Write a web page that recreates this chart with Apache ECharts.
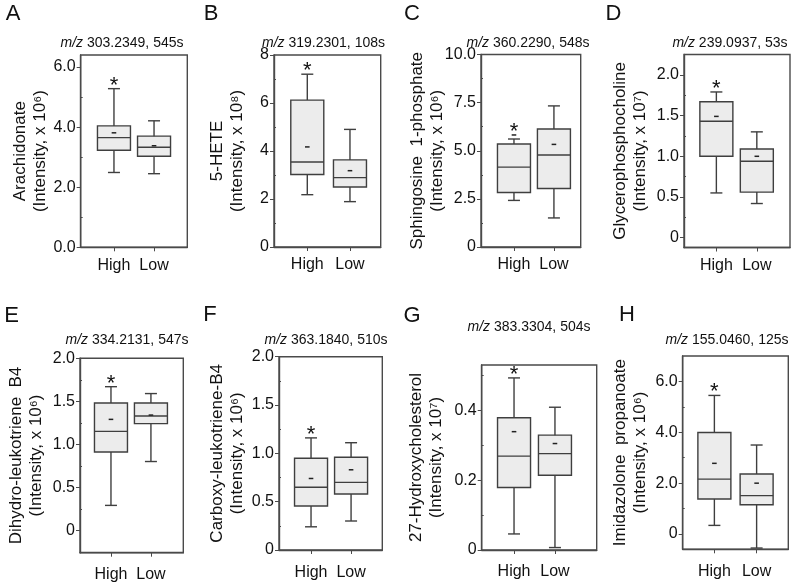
<!DOCTYPE html>
<html>
<head>
<meta charset="utf-8">
<script src="https://cdn.jsdelivr.net/npm/echarts@6/dist/echarts.min.js"></script>
<style>
  html, body { margin: 0; padding: 0; background: #fff; }
  #chart { width: 800px; height: 582px; }
</style>
</head>
<body>
<div id="chart"></div>
<script>
// groups on the x axis
const groups = ['High', 'Low']
const panelLetters = ['A', 'B', 'C', 'D', 'E', 'F', 'G', 'H']
const metabolites = ['Arachidonate', '5-HETE', 'Sphingosine  1-phosphate', 'Glycerophosphocholine',
  'Dihydro-leukotriene  B4', 'Carboxy-leukotriene-B4', '27-Hydroxycholesterol', 'Imidazolone  propanoate']
const mzValues = ['303.2349', '319.2301', '360.2290', '239.0937', '334.2131', '363.1840', '383.3304', '155.0460']
const retentionTimes = ['545s', '108s', '548s', '53s', '547s', '510s', '504s', '125s']
const units = ['10⁶', '10⁸', '10⁶', '10⁷', '10⁶', '10⁶', '10⁷', '10⁶']

// box stats per group: [lower whisker, Q1, median, Q3, upper whisker]
const statsA = [[2.49, 3.23, 3.65, 4.04, 5.28], [2.45, 3.03, 3.33, 3.70, 4.21]]
const statsB = [[2.18, 3.02, 3.54, 6.12, 7.20], [1.89, 2.50, 2.89, 3.63, 4.90]]
const statsC = [[2.42, 2.83, 4.15, 5.35, 5.61], [1.51, 3.04, 4.78, 6.13, 7.33]]
const statsD = [[0.55, 1.00, 1.43, 1.67, 1.79], [0.42, 0.56, 0.94, 1.09, 1.30]]
const statsE = [[0.29, 0.91, 1.15, 1.48, 1.67], [0.80, 1.24, 1.33, 1.48, 1.59]]
const statsF = [[0.24, 0.455, 0.65, 0.95, 1.16], [0.30, 0.58, 0.70, 0.96, 1.11]]
const statsG = [[0.046, 0.179, 0.269, 0.379, 0.493], [0.007, 0.214, 0.276, 0.329, 0.409]]
const statsH = [[0.34, 1.38, 2.16, 3.99, 5.45], [-0.55, 1.15, 1.51, 2.36, 3.50]]

// mean of each group (the small dash)
const meansA = [3.81, 3.38]
const meansB = [4.17, 3.18]
const meansC = [5.82, 5.33]
const meansD = [1.49, 1.00]
const meansE = [1.29, 1.34]
const meansF = [0.74, 0.83]
const meansG = [0.339, 0.305]
const meansH = [2.78, 2.00]

// significance flag (asterisk) per group
const starred = [true, false]

// y tick values and labels
const yTicksA = [0, 2, 4, 6]
const yLabelsA = ['0.0', '2.0', '4.0', '6.0']
const yTicksB = [0, 2, 4, 6, 8]
const yLabelsB = ['0', '2', '4', '6', '8']
const yTicksC = [0, 2.5, 5, 7.5, 10]
const yLabelsC = ['0', '2.5', '5.0', '7.5', '10.0']
const yTicksD = [0, 0.5, 1, 1.5, 2]
const yLabelsD = ['0', '0.5', '1.0', '1.5', '2.0']
const yTicksE = [0, 0.5, 1, 1.5, 2]
const yLabelsE = ['0', '0.5', '1.0', '1.5', '2.0']
const yTicksF = [0, 0.5, 1, 1.5, 2]
const yLabelsF = ['0', '0.5', '1.0', '1.5', '2.0']
const yTicksG = [0, 0.2, 0.4]
const yLabelsG = ['0', '0.2', '0.4']
const yTicksH = [0, 2, 4, 6]
const yLabelsH = ['0', '2.0', '4.0', '6.0']

const allStats = [statsA, statsB, statsC, statsD, statsE, statsF, statsG, statsH]
const allMeans = [meansA, meansB, meansC, meansD, meansE, meansF, meansG, meansH]
const allTicks = [yTicksA, yTicksB, yTicksC, yTicksD, yTicksE, yTicksF, yTicksG, yTicksH]
const allLabels = [yLabelsA, yLabelsB, yLabelsC, yLabelsD, yLabelsE, yLabelsF, yLabelsG, yLabelsH]

// layout of each panel: grid box (px), axis ranges, name gap, letter / title positions
const layout = [
  { left: 80.7, top: 55, width: 106.6, height: 192.3, xMin: 0.17, xMax: 2.83, yMin: 0, yMax: 6.4, gap: 30.5, xMargin: 10, letter: [13, 14], title: [122, 43] },
  { left: 274, top: 55, width: 106.7, height: 192, xMin: 0.22, xMax: 2.72, yMin: 0, yMax: 8, gap: 26.5, xMargin: 10, letter: [211, 14], title: [323.5, 43] },
  { left: 481, top: 54.5, width: 99.7, height: 192.5, xMin: 0.175, xMax: 2.67, yMin: 0, yMax: 10, gap: 33.5, xMargin: 10, letter: [412, 14], title: [528, 43] },
  { left: 684, top: 54.5, width: 106, height: 193, xMin: 0.2, xMax: 2.82, yMin: -0.12, yMax: 2.25, gap: 33.5, xMargin: 10, letter: [613.5, 14], title: [730, 43] },
  { left: 80, top: 358.3, width: 103.3, height: 194.4, xMin: 0.225, xMax: 2.81, yMin: -0.26, yMax: 2.0, gap: 33.5, xMargin: 14, letter: [11.5, 315.5], title: [127, 340] },
  { left: 279, top: 356.7, width: 103.3, height: 193.3, xMin: 0.2, xMax: 2.78, yMin: 0, yMax: 2.0, gap: 31.5, xMargin: 15, letter: [210, 315], title: [326, 340] },
  { left: 481.7, top: 365, width: 115, height: 185, xMin: 0.21, xMax: 3.02, yMin: 0, yMax: 0.53, gap: 35.5, xMargin: 14, letter: [412, 316], title: [529, 327.3] },
  { left: 682.7, top: 356, width: 105.6, height: 193.3, xMin: 0.25, xMax: 2.75, yMin: -0.6, yMax: 7.0, gap: 32.5, xMargin: 14, letter: [627, 315], title: [727, 340] }
]

const lineColor = '#3f3f3f'
const frameColor = '#4a4a4a'
const textColor = '#111'
const fontFamily = 'Liberation Sans, Arial, sans-serif'

// minor ticks sit halfway between major ticks
const minorOf = (ticks, max) => {
  const step = ticks[1] - ticks[0]
  const out = []
  for (let i = 0; i < ticks.length; i++) {
    const v = ticks[i] + step / 2
    if (v < max) out.push(+v.toFixed(6))
  }
  return out
}

const renderBox = (params, api) => {
  const x = api.value(0)
  const pt = (v) => api.coord([x, v])
  const cx = pt(api.value(3))[0]
  const yLow = pt(api.value(1))[1]
  const yQ1 = pt(api.value(2))[1]
  const yMed = pt(api.value(3))[1]
  const yQ3 = pt(api.value(4))[1]
  const yHigh = pt(api.value(5))[1]
  const mean = api.value(6)
  const star = api.value(7)
  const half = 16.5
  const cap = 6
  const st = { stroke: lineColor, lineWidth: 1.4, fill: null }
  const children = [
    { type: 'line', shape: { x1: cx, y1: yLow, x2: cx, y2: yHigh }, style: st },
    { type: 'line', shape: { x1: cx - cap, y1: yLow, x2: cx + cap, y2: yLow }, style: st },
    { type: 'line', shape: { x1: cx - cap, y1: yHigh, x2: cx + cap, y2: yHigh }, style: st },
    { type: 'rect', shape: { x: cx - half, y: yQ3, width: half * 2, height: yQ1 - yQ3 }, style: { stroke: lineColor, lineWidth: 1.4, fill: '#ececec' } },
    { type: 'line', shape: { x1: cx - half, y1: yMed, x2: cx + half, y2: yMed }, style: st }
  ]
  let topY = yHigh
  if (!isNaN(mean)) {
    const yMean = pt(mean)[1]
    topY = Math.min(topY, yMean)
    children.push({ type: 'line', shape: { x1: cx - 2.3, y1: yMean, x2: cx + 2.3, y2: yMean }, style: { stroke: '#222', lineWidth: 1.5 } })
  }
  if (star === 1) {
    children.push({
      type: 'text',
      x: cx,
      y: topY - 3,
      style: { text: '*', font: '22px ' + fontFamily, fill: textColor, align: 'center', verticalAlign: 'middle' }
    })
  }
  return { type: 'group', children }
}

const grids = []
const xAxes = []
const yAxes = []
const series = []
const graphics = []

layout.forEach((L, i) => {
  grids.push({
    left: L.left, top: L.top, width: L.width, height: L.height,
    show: true, borderColor: frameColor, borderWidth: 1.4,
    containLabel: false, outerBoundsMode: 'none'
  })
  xAxes.push({
    type: 'value', gridIndex: i, min: L.xMin, max: L.xMax,
    axisLine: { onZero: false, lineStyle: { color: frameColor, width: 1.4 } },
    axisTick: { customValues: [1, 2], length: 4, lineStyle: { color: frameColor } },
    axisLabel: {
      customValues: [1, 2], margin: L.xMargin, color: textColor, fontSize: 16, fontFamily,
      formatter: (v) => groups[Math.round(v) - 1]
    },
    splitLine: { show: false }
  })
  const ticks = allTicks[i]
  const labels = allLabels[i]
  yAxes.push({
    type: 'value', gridIndex: i, min: L.yMin, max: L.yMax,
    name: metabolites[i] + '\n(Intensity, x ' + units[i] + ')',
    nameLocation: 'middle', nameGap: L.gap, nameRotate: 90, nameMoveOverlap: false,
    nameTextStyle: { fontSize: 17, lineHeight: 20, color: textColor, fontFamily },
    axisLine: { onZero: false, lineStyle: { color: frameColor, width: 1.4 } },
    axisTick: { customValues: ticks, length: 4, lineStyle: { color: frameColor } },
    axisLabel: {
      customValues: ticks, margin: 5, color: textColor, fontSize: 16, fontFamily,
      formatter: (v) => {
        const k = ticks.findIndex((t) => Math.abs(t - v) < 1e-9)
        return k >= 0 ? labels[k] : ''
      }
    },
    splitLine: { show: false }
  })
  // second axis only for the little inside minor ticks
  yAxes.push({
    type: 'value', gridIndex: i, min: L.yMin, max: L.yMax, position: 'left',
    axisLine: { show: false },
    axisTick: { customValues: minorOf(ticks, L.yMax), inside: true, length: 2, lineStyle: { color: frameColor } },
    axisLabel: { show: false },
    splitLine: { show: false }
  })
  const stats = allStats[i]
  const means = allMeans[i]
  series.push({
    type: 'custom',
    xAxisIndex: i,
    yAxisIndex: i * 2,
    clip: false,
    encode: { x: 0, y: [1, 2, 3, 4, 5] },
    renderItem: renderBox,
    data: groups.map((g, k) => [k + 1, ...stats[k], means[k], starred[k] ? 1 : 0]),
    silent: true
  })
  graphics.push({
    type: 'text', x: L.letter[0], y: L.letter[1],
    style: { text: panelLetters[i], font: '22px ' + fontFamily, fill: textColor, align: 'center', verticalAlign: 'middle' }
  })
  graphics.push({
    type: 'text', x: L.title[0], y: L.title[1],
    style: {
      text: '{i|m/z} ' + mzValues[i] + ', ' + retentionTimes[i],
      font: '14px ' + fontFamily, fill: textColor, align: 'center', verticalAlign: 'middle',
      rich: { i: { fontStyle: 'italic', fontSize: 14, fontFamily, fill: textColor } }
    }
  })
})

const myChart = echarts.init(document.getElementById('chart'), null, { renderer: 'canvas' })
myChart.setOption({
  animation: false,
  backgroundColor: '#fff',
  grid: grids,
  xAxis: xAxes,
  yAxis: yAxes,
  series,
  graphic: graphics
})
</script>
</body>
</html>
